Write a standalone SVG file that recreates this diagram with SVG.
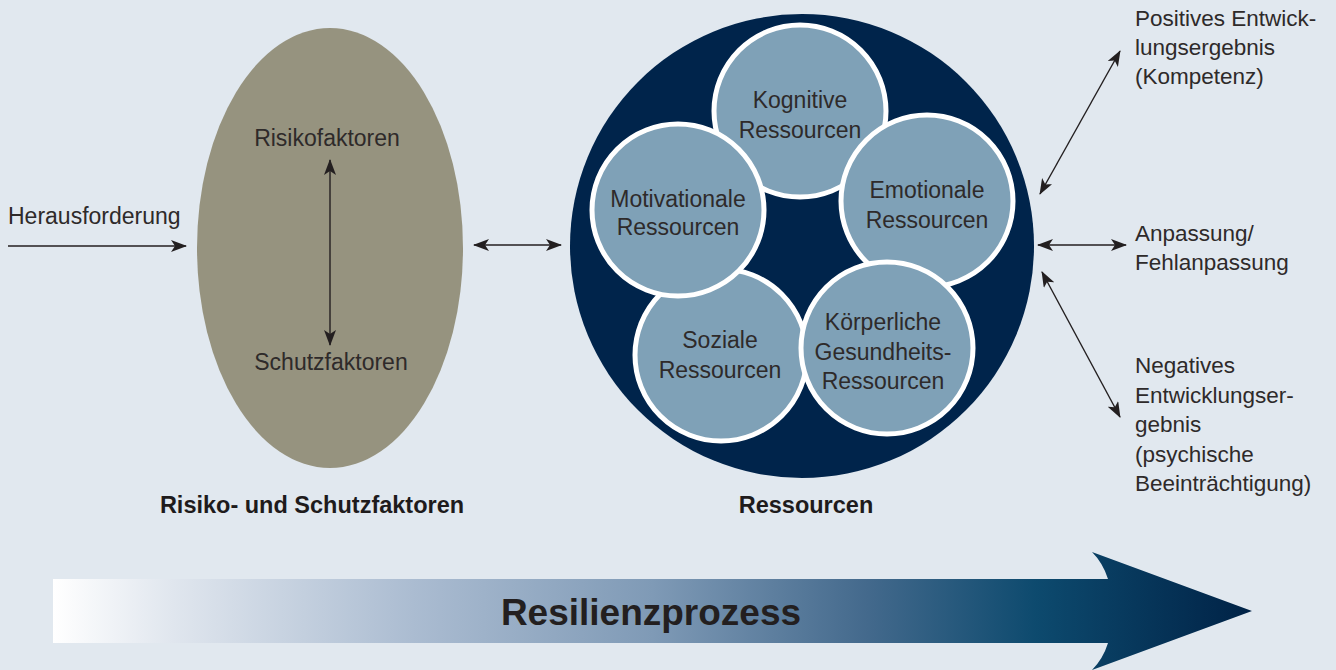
<svg xmlns="http://www.w3.org/2000/svg" width="1336" height="670" viewBox="0 0 1336 670">
  <defs>
    <style>
      .t { font-family: "Liberation Sans", Arial, sans-serif; font-size: 23px; fill: #2e2a2a; }
      .r { font-size: 22.5px; }
      .c { text-anchor: middle; }
      .b { font-family: "Liberation Sans", Arial, sans-serif; font-weight: bold; font-size: 23.5px; fill: #1e1b1c; text-anchor: middle; }
      .res { fill: #7fa1b7; stroke: #ffffff; stroke-width: 5; }
      .ln { stroke: #231f20; stroke-width: 1.4; fill: none; marker-end: url(#ah); }
      .dbl { marker-start: url(#ahs); }
    </style>
    <marker id="ah" viewBox="0 0 16 12" refX="15" refY="6" markerWidth="16" markerHeight="12" markerUnits="userSpaceOnUse" orient="auto">
      <path d="M0,0 L16,6 L0,12 L4,6 Z" fill="#231f20"/>
    </marker>
    <marker id="ahs" viewBox="0 0 16 12" refX="15" refY="6" markerWidth="16" markerHeight="12" markerUnits="userSpaceOnUse" orient="auto-start-reverse">
      <path d="M0,0 L16,6 L0,12 L4,6 Z" fill="#231f20"/>
    </marker>
    <linearGradient id="flow" gradientUnits="userSpaceOnUse" x1="53" y1="0" x2="1252" y2="0">
      <stop offset="0" stop-color="#ffffff"/>
      <stop offset="0.1" stop-color="#e0e6ee"/>
      <stop offset="0.3" stop-color="#abbcd1"/>
      <stop offset="0.5" stop-color="#7f9ab6"/>
      <stop offset="0.68" stop-color="#43698c"/>
      <stop offset="0.82" stop-color="#0d4a6e"/>
      <stop offset="1" stop-color="#002246"/>
    </linearGradient>
  </defs>

  <rect width="1336" height="670" fill="#e1e8ef"/>

  <!-- risk and protective factors -->
  <g id="faktoren">
    <ellipse cx="330" cy="248" rx="133" ry="220" fill="#96937f"/>
    <text class="t c" x="327" y="146">Risikofaktoren</text>
    <text class="t c" x="331" y="370">Schutzfaktoren</text>
  </g>

  <!-- resources -->
  <g id="ressourcen">
    <circle cx="802" cy="246" r="232" fill="#00244b"/>
  </g>
  <g id="kognitiv">
    <circle class="res" cx="800" cy="111" r="86"/>
    <text class="t c" x="800" y="108">Kognitive</text>
    <text class="t c" x="800" y="138">Ressourcen</text>
  </g>
  <g id="emotional">
    <circle class="res" cx="927" cy="201" r="86"/>
    <text class="t c" x="927" y="198">Emotionale</text>
    <text class="t c" x="927" y="228">Ressourcen</text>
  </g>
  <g id="sozial">
    <circle class="res" cx="721" cy="355" r="86"/>
    <text class="t c" x="720" y="348">Soziale</text>
    <text class="t c" x="720" y="378">Ressourcen</text>
  </g>
  <g id="motivational">
    <circle class="res" cx="678" cy="210" r="86"/>
    <text class="t c" x="678" y="207">Motivationale</text>
    <text class="t c" x="678" y="235">Ressourcen</text>
  </g>
  <g id="koerperlich">
    <circle class="res" cx="887" cy="348" r="86"/>
    <text class="t c" x="883" y="330">Körperliche</text>
    <text class="t c" x="883" y="360">Gesundheits-</text>
    <text class="t c" x="883" y="389">Ressourcen</text>
  </g>

  <!-- input and outcomes -->
  <g id="herausforderung">
    <text class="t" x="8" y="224">Herausforderung</text>
  </g>
  <g id="positiv">
    <text class="t r" x="1135" y="26">Positives Entwick-</text>
    <text class="t r" x="1135" y="55">lungsergebnis</text>
    <text class="t r" x="1135" y="84">(Kompetenz)</text>
  </g>
  <g id="anpassung">
    <text class="t r" x="1135" y="241">Anpassung/</text>
    <text class="t r" x="1135" y="270">Fehlanpassung</text>
  </g>
  <g id="negativ">
    <text class="t r" x="1135" y="373">Negatives</text>
    <text class="t r" x="1135" y="403">Entwicklungser-</text>
    <text class="t r" x="1135" y="432">gebnis</text>
    <text class="t r" x="1135" y="462">(psychische</text>
    <text class="t r" x="1135" y="491">Beeinträchtigung)</text>
  </g>

  <!-- section labels -->
  <g id="labels">
    <text class="b" x="312" y="513">Risiko- und Schutzfaktoren</text>
    <text class="b" x="806" y="513">Ressourcen</text>
  </g>

  <!-- connectors -->
  <g id="connectors">
    <line class="ln" x1="8" y1="246" x2="186" y2="246"/>
    <line class="ln dbl" x1="330" y1="160" x2="330" y2="345"/>
    <line class="ln dbl" x1="474" y1="245" x2="561" y2="245"/>
    <line class="ln dbl" x1="1040" y1="194" x2="1120" y2="51"/>
    <line class="ln dbl" x1="1038" y1="245" x2="1126" y2="245"/>
    <line class="ln dbl" x1="1042" y1="272" x2="1120" y2="417"/>
  </g>

  <!-- process arrow -->
  <g id="resilienzprozess">
    <path d="M53,579 L1108,579 Q1103,563 1092,552 L1252,611 L1092,670 Q1103,659 1108,643 L53,643 Z" fill="url(#flow)"/>
    <text x="651" y="625" text-anchor="middle" font-family="Liberation Sans, Arial, sans-serif" font-weight="bold" font-size="37" fill="#231f20">Resilienzprozess</text>
  </g>
</svg>
